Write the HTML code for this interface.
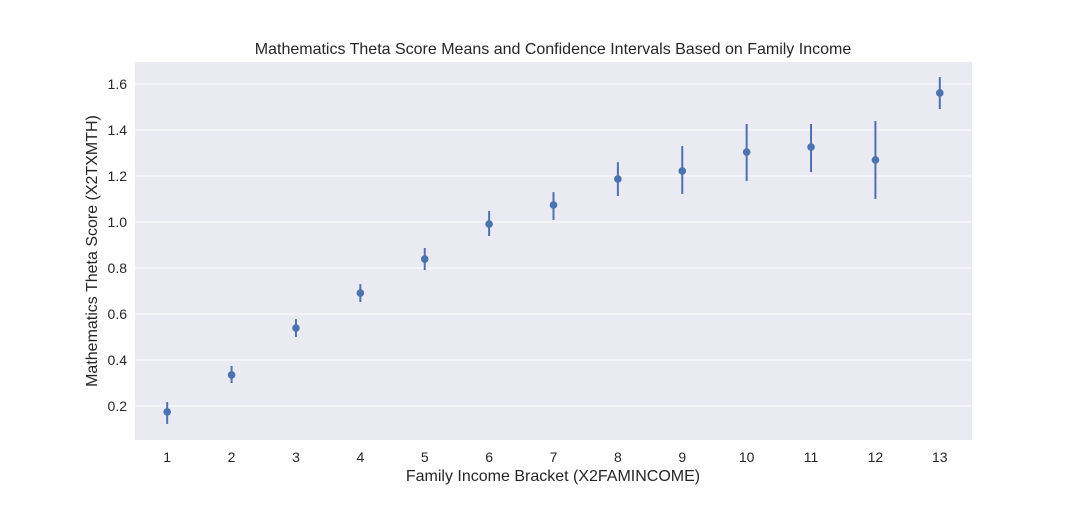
<!DOCTYPE html>
<html><head><meta charset="utf-8"><style>
body{margin:0;background:#fff;font-family:"Liberation Sans",sans-serif}
</style></head><body>
<svg width="1080" height="504" xmlns="http://www.w3.org/2000/svg">
<rect x="135" y="62" width="837" height="378" fill="#eaeaf2"/>
<g id="grid"></g><g id="marks"></g><g id="ticks"></g>
<text x="553" y="54" text-anchor="middle" font-size="16" fill="#262626">Mathematics Theta Score Means and Confidence Intervals Based on Family Income</text>
<text x="553" y="481" text-anchor="middle" font-size="16" fill="#262626">Family Income Bracket (X2FAMINCOME)</text>
<text transform="translate(97,251) rotate(-90)" text-anchor="middle" font-size="16" fill="#262626">Mathematics Theta Score (X2TXMTH)</text>
</svg>
<script>
const categories=[1,2,3,4,5,6,7,8,9,10,11,12,13];
const means=[0.174,0.335,0.539,0.691,0.839,0.991,1.074,1.187,1.222,1.304,1.326,1.27,1.561];
const ciLow=[0.122,0.3,0.5,0.652,0.791,0.939,1.009,1.113,1.122,1.178,1.217,1.1,1.491];
const ciHigh=[0.217,0.374,0.578,0.73,0.887,1.048,1.13,1.26,1.33,1.426,1.426,1.439,1.63];
const yTicks=[0.2,0.4,0.6,0.8,1.0,1.2,1.4,1.6];
const NS="http://www.w3.org/2000/svg";
const L=135,R=972,T=62,B=440;
const x=i=>L+(R-L)*(i+0.5)/categories.length;
const y=v=>406-(v-0.2)*230;
function mk(p,tag,a){const e=document.createElementNS(NS,tag);for(const k in a)e.setAttribute(k,a[k]);document.getElementById(p).appendChild(e);return e;}
yTicks.forEach(t=>{
 const g=mk('grid','line',{x1:L,x2:R,y1:y(t),y2:y(t),stroke:'#fff','stroke-width':1});
 
 
 const tx=mk('ticks','text',{x:L-8,y:y(t)+5,'text-anchor':'end','font-size':14,fill:'#262626'});
 tx.textContent=t.toFixed(1);
 
 
});
categories.forEach((c,i)=>{
 const tx=mk('ticks','text',{x:x(i),y:B+22,'text-anchor':'middle','font-size':14,fill:'#262626'});
 tx.textContent=c;
 
 
 const ln=mk('marks','line',{x1:x(i),x2:x(i),y1:y(ciLow[i]),y2:y(ciHigh[i]),stroke:'#4c72b0','stroke-width':2});
 
 
 const pt=mk('marks','circle',{cx:x(i),cy:y(means[i]),r:3.8,fill:'#4c72b0'});
 
 
});
</script>
</body></html>
